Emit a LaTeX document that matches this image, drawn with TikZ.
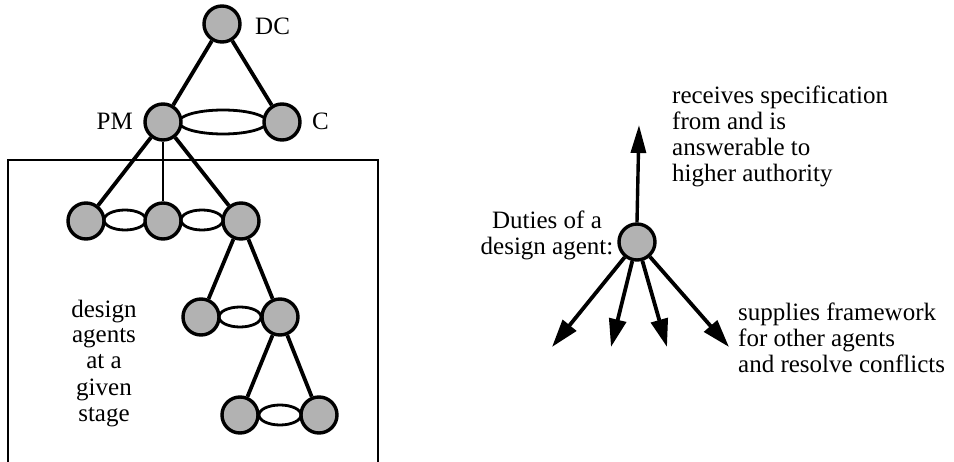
\documentclass[tikz,border=0pt]{standalone}
\usepackage{fontspec}
\setmainfont{Liberation Serif}
\usetikzlibrary{arrows.meta,shapes.geometric,backgrounds}
\begin{document}
\begin{tikzpicture}[x=1pt,y=-1pt,
  agent/.style={circle,draw,line width=3.4pt,fill=black!30,minimum size=36pt,inner sep=0pt},
  link/.style={ellipse,draw,line width=2.8pt,fill=white,inner sep=0pt},
  tie/.style={line width=3.8pt},
  lbl/.style={font=\fontsize{25}{26}\selectfont,inner sep=0pt},
  duty/.style={line width=3.8pt,-{Triangle[length=28pt,width=17pt]}}
]
\useasboundingbox (0,0) rectangle (954,462);

% ---- hierarchy of design agents ----
\node[agent] (dc) at (222,24) {};
\node[agent] (pm) at (163,122) {};
\node[agent] (c)  at (282,122) {};

\node[agent] (a1) at (86,221) {};
\node[agent] (a2) at (163,221) {};
\node[agent] (a3) at (241,221) {};

\node[agent] (b1) at (201,317) {};
\node[agent] (b2) at (280,317) {};

\node[agent] (c1) at (240,415) {};
\node[agent] (c2) at (319,415) {};

% peer links between agents, drawn under the circles
\begin{scope}[on background layer]
  \node[link,minimum width=88pt,minimum height=24pt] (lpc) at (223,122) {};
  \node[link,minimum width=42pt,minimum height=20pt] (la12) at (125,220) {};
  \node[link,minimum width=42pt,minimum height=20pt] (la23) at (202,220) {};
  \node[link,minimum width=42pt,minimum height=20pt] (lb) at (240,317) {};
  \node[link,minimum width=42pt,minimum height=20pt] (lc) at (280,415) {};
\end{scope}

\draw[tie] (dc) -- (pm);
\draw[tie] (dc) -- (c);
\draw[tie] (pm) -- (a1);
\draw[line width=2.4pt] (pm) -- (a2);
\draw[tie] (pm) -- (a3);
\draw[tie] (a3) -- (b1);
\draw[tie] (a3) -- (b2);
\draw[tie] (b2) -- (c1);
\draw[tie] (b2) -- (c2);

\node[lbl,anchor=base west] (ldc) at (255,35) {DC};
\node[lbl,anchor=base east] (lpm) at (133,130) {PM};
\node[lbl,anchor=base west] (lcc) at (312,130) {C};

% stage frame
\draw[line width=2.4pt] (8,462) -- (8,160) -- (378,160) -- (378,462);

% multi-line nodes: base anchor sits on the last line
\node[lbl,align=center,anchor=base] (stage) at (104,421)
  {design\\agents\\at a\\given\\stage};

% ---- duties of a single agent ----
\node[agent] (ag) at (637,242) {};
\coordinate (up) at (639,125);
\coordinate (d1) at (552,347);
\coordinate (d2) at (611,347);
\coordinate (d3) at (667,347);
\coordinate (d4) at (729,347);

\draw[line width=3.4pt,-{Triangle[length=28pt,width=15pt]}] (ag.north) -- (up);
\draw[duty] (ag) -- (d1);
\draw[duty] (ag) -- (d2);
\draw[duty] (ag) -- (d3);
\draw[duty] (ag) -- (d4);

\node[lbl,align=center,anchor=base] (duties) at (547,255)
  {Duties of a\\design agent:};
\node[lbl,align=left,anchor=base west] (spec) at (672,182)
  {receives specification\\from and is\\answerable to\\higher authority};
\node[lbl,align=left,anchor=base west] (frame) at (738,373)
  {supplies framework\\for other agents\\and resolve conflicts};
\end{tikzpicture}
\end{document}
